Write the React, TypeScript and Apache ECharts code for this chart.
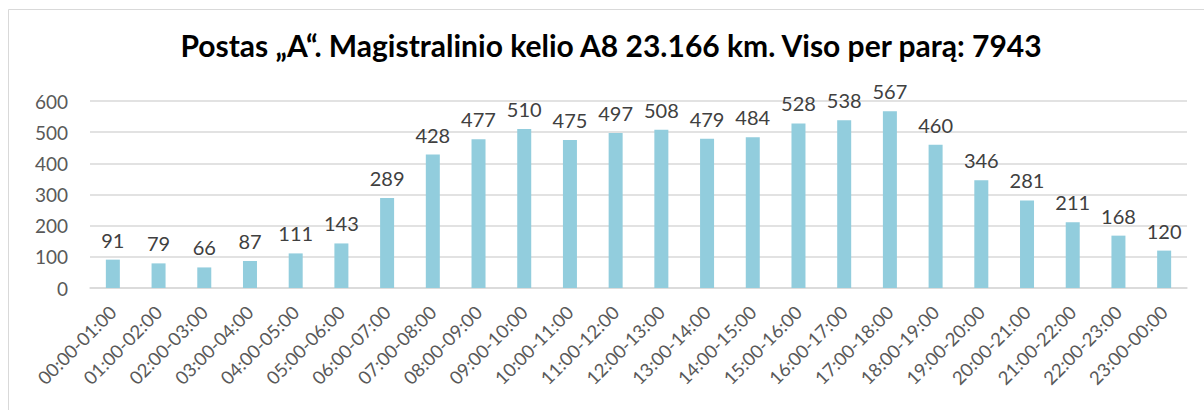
import React, { useEffect, useRef } from "react";
import * as echarts from "echarts";

const titleText = "Postas „A“. Magistralinio kelio A8 23.166 km. Viso per parą: 7943";
const categories = [
  "00:00-01:00", "01:00-02:00", "02:00-03:00", "03:00-04:00", "04:00-05:00", "05:00-06:00",
  "06:00-07:00", "07:00-08:00", "08:00-09:00", "09:00-10:00", "10:00-11:00", "11:00-12:00",
  "12:00-13:00", "13:00-14:00", "14:00-15:00", "15:00-16:00", "16:00-17:00", "17:00-18:00",
  "18:00-19:00", "19:00-20:00", "20:00-21:00", "21:00-22:00", "22:00-23:00", "23:00-00:00",
];
const values = [91, 79, 66, 87, 111, 143, 289, 428, 477, 510, 475, 497, 508, 479, 484, 528, 538, 567, 460, 346, 281, 211, 168, 120];
const yMin = 0;
const yMax = 600;
const yInterval = 100;

const FONT = "Lato, 'Open Sans', sans-serif";

export default function App() {
  const ref = useRef<HTMLDivElement>(null);
  useEffect(() => {
    if (!ref.current) return;
    const chart = echarts.init(ref.current, undefined, { renderer: "svg" });
    chart.setOption({
      animation: false,
      backgroundColor: "#ffffff",
      title: {
        text: titleText,
        left: 606,
        textAlign: "center",
        top: 25,
        textStyle: { fontFamily: FONT, fontSize: 30, fontWeight: "bold", color: "#000000" },
      },
      graphic: [
        {
          type: "rect",
          shape: { x: 8.5, y: 9.5, width: 1400, height: 600 },
          style: { fill: "none", stroke: "#d9d9d9", lineWidth: 1 },
          silent: true,
        },
      ],
      grid: { left: 90, right: 17, top: 101, bottom: 122, containLabel: false },
      xAxis: {
        type: "category",
        data: categories,
        axisLine: { show: true, lineStyle: { color: "#d9d9d9", width: 1.5 } },
        axisTick: { show: false },
        axisLabel: {
          rotate: 45,
          interval: 0,
          margin: 21,
          fontFamily: FONT,
          fontSize: 18.5,
          color: "#595959",
        },
      },
      yAxis: {
        type: "value",
        min: yMin,
        max: yMax,
        interval: yInterval,
        axisLine: { show: false },
        axisTick: { show: false },
        splitLine: { lineStyle: { color: "#d9d9d9", width: 1.5 } },
        axisLabel: { margin: 22, fontFamily: FONT, fontSize: 19, color: "#595959" },
      },
      series: [
        {
          type: "bar",
          data: values,
          barWidth: 14,
          itemStyle: { color: "#92cddd" },
          label: {
            show: true,
            position: "top",
            distance: 10,
            fontFamily: FONT,
            fontSize: 20,
            color: "#404040",
          },
        },
      ],
    });
    return () => chart.dispose();
  }, []);
  return (
    <div
      ref={ref}
      style={{ position: "fixed", left: 0, top: 0, width: 1204, height: 410 }}
    />
  );
}
